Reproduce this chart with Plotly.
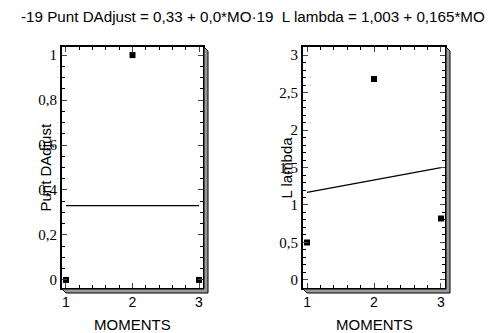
import plotly.graph_objects as go
from plotly.subplots import make_subplots

# Data
moments = [1, 2, 3]
punt_dadjust = [0, 1, 0]
punt_dadjust_fit = [0.33, 0.33, 0.33]
l_lambda = [0.5, 2.68, 0.82]
l_lambda_fit = [1.168, 1.333, 1.498]

title_text = "-19 Punt DAdjust = 0,33 + 0,0*MO·19  L lambda = 1,003 + 0,165*MO"
x_title = "MOMENTS"
y_titles = ["Punt DAdjust", "L lambda"]

W, H = 501, 333
PAGE_MARGIN = 8  # default body margin of the html page
SANS = "Liberation Sans"
SERIF = "Liberation Serif"

# pixel boxes of the two panels in the window (left, right, top, bottom)
boxes = [(62, 203, 47, 288), (303, 445, 47, 288)]


def px(x):
    return (x - PAGE_MARGIN) / W


def py(y):
    return 1 - (y - PAGE_MARGIN) / H


fig = make_subplots(rows=1, cols=2)

panels = [
    (punt_dadjust, punt_dadjust_fit, [-0.036, 1.036], 0.2, 0.05),
    (l_lambda, l_lambda_fit, [-0.107, 3.107], 0.5, 0.1),
]

for i, (vals, fit, yrange, dtick, minor) in enumerate(panels, start=1):
    # fitted line
    fig.add_trace(
        go.Scatter(
            x=moments, y=fit, mode="lines",
            line=dict(color="black", width=1.2), showlegend=False,
        ),
        row=1, col=i,
    )
    # observed points
    fig.add_trace(
        go.Scatter(
            x=moments, y=vals, mode="markers",
            marker=dict(symbol="square", size=6, color="black"),
            cliponaxis=False, showlegend=False,
        ),
        row=1, col=i,
    )

    left, right, top, bottom = boxes[i - 1]
    fig.update_xaxes(
        domain=[px(left), px(right)], range=[0.94, 3.06],
        tickvals=moments, ticks="inside", ticklen=5, tickwidth=1,
        minor=dict(ticks="inside", dtick=0.2, ticklen=3, tickcolor="black"),
        showline=True, linecolor="black", linewidth=2, mirror="allticks",
        showgrid=False, zeroline=False,
        tickfont=dict(family=SANS, size=14, color="black"),
        row=1, col=i,
    )
    fig.update_yaxes(
        domain=[py(bottom), py(top)], range=yrange,
        dtick=dtick, tick0=0, ticks="inside", ticklen=5, tickwidth=1,
        minor=dict(ticks="inside", dtick=minor, ticklen=3, tickcolor="black"),
        showline=True, linecolor="black", linewidth=2, mirror="allticks",
        showgrid=False, zeroline=False,
        tickfont=dict(family=SERIF, size=15, color="black"),
        row=1, col=i,
    )

    # drop shadow on right and bottom of the frame
    d = 4
    path = (
        f"M {px(right + 1)} {py(top)} L {px(right + d + 1)} {py(top + d)} "
        f"L {px(right + d + 1)} {py(bottom + d + 1)} L {px(left + d)} {py(bottom + d + 1)} "
        f"L {px(left)} {py(bottom + 1)} L {px(right + 1)} {py(bottom + 1)} Z"
    )
    fig.add_shape(
        type="path", path=path, xref="paper", yref="paper",
        fillcolor="#9a9a9a", line=dict(color="black", width=1), layer="above",
    )

    # axis titles
    fig.add_annotation(
        text=x_title, x=px((left + right) / 2), y=py(324), xref="paper", yref="paper",
        xanchor="center", yanchor="middle", showarrow=False,
        font=dict(family=SANS, size=15, color="black"),
    )
    fig.add_annotation(
        text=y_titles[i - 1], x=px(left - 17), y=py((top + bottom) / 2),
        xref="paper", yref="paper", xanchor="center", yanchor="middle",
        textangle=-90, showarrow=False,
        font=dict(family=SANS, size=15, color="black"),
    )

fig.add_annotation(
    text=title_text, x=px(253), y=py(16.5), xref="paper", yref="paper",
    xanchor="center", yanchor="middle", showarrow=False, borderpad=0,
    font=dict(family=SANS, size=15.2, color="black"),
)

fig.update_layout(
    width=W, height=H,
    margin=dict(l=0, r=0, t=0, b=0),
    plot_bgcolor="white", paper_bgcolor="white",
    separators=", ",
)

fig.write_html("out.html")
